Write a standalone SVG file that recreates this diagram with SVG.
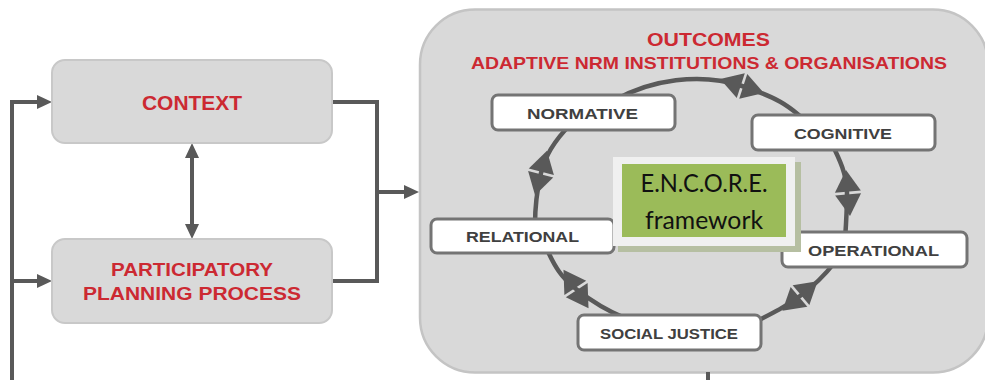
<svg xmlns="http://www.w3.org/2000/svg" width="985" height="380" viewBox="0 0 985 380">
<defs>
<style>
.bg{fill:#ffffff}
.panel{fill:#d9d9d9;stroke:#c4c4c4;stroke-width:2.5}
.ctx{fill:#d9d9d9;stroke:#c8c8c8;stroke-width:2}
.node{fill:#ffffff;stroke:#747474;stroke-width:3}
.red{font-family:"Liberation Sans",Arial,sans-serif;font-weight:bold;fill:#cc2932;text-anchor:middle}
.lbl{font-family:"Liberation Sans",Arial,sans-serif;font-weight:bold;fill:#404040;font-size:15px;text-anchor:middle}
.enc{font-family:Lato,"Liberation Sans",sans-serif;fill:#111111;font-size:25px;text-anchor:middle}
.wire{fill:none;stroke:#595959;stroke-width:4}
.ring{fill:none;stroke:#595959;stroke-width:4.5;stroke-linecap:round}
.dia{fill:#595959}
</style>
<marker id="ah" markerUnits="userSpaceOnUse" markerWidth="16" markerHeight="15" refX="7" refY="7" orient="auto-start-reverse">
<path d="M0,0 L15,7 L0,14 Z" fill="#595959"/>
</marker>
<g id="dm">
<polygon points="-23,0 -1.3,-13 -1.3,13"/>
<polygon points="23,0 1.3,-13 1.3,13"/>
</g>
</defs>
<rect class="bg" x="0" y="0" width="985" height="380"/>

<g id="outcomes">
<rect class="panel" x="420" y="9.5" width="568" height="363" rx="55" ry="55"/>
<text class="red" x="708.5" y="46" font-size="18" textLength="123" lengthAdjust="spacingAndGlyphs">OUTCOMES</text>
<text class="red" x="709" y="69" font-size="17" textLength="476" lengthAdjust="spacingAndGlyphs">ADAPTIVE NRM INSTITUTIONS &amp; ORGANISATIONS</text>
</g>

<g id="connectors">
<path class="wire" d="M12,380 V102 H44" marker-end="url(#ah)"/>
<path class="wire" d="M12,281 H44" marker-end="url(#ah)"/>
<path class="wire" d="M192,151 V231" marker-start="url(#ah)" marker-end="url(#ah)"/>
<path class="wire" d="M332,102 H377 V281 H332"/>
<path class="wire" d="M377,192 H411" marker-end="url(#ah)"/>
<path class="wire" d="M708,372 V380"/>
<g id="ring">
<path class="ring" d="M615,100 C650,80 700,72 742,86 S790,108 805,120"/>
<path class="ring" d="M830,140 C840,160 847,175 847,193 S846,225 845,240"/>
<path class="ring" d="M835,262 C825,275 815,285 800,296 S775,312 755,322"/>
<path class="ring" d="M625,318 C605,310 590,300 576,289 S555,268 545,245"/>
<path class="ring" d="M535,225 C535,205 537,190 541,173 S555,140 570,125"/>
<g class="dia">
<use href="#dm" transform="translate(742,86) rotate(18)"/>
<use href="#dm" transform="translate(848,193) rotate(85)"/>
<use href="#dm" transform="translate(800,296) rotate(140)"/>
<use href="#dm" transform="translate(576,289) rotate(57)"/>
<use href="#dm" transform="translate(541,173) rotate(105)"/>
</g>
</g>
</g>

<g id="context">
<rect class="ctx" x="52" y="60" width="280" height="83" rx="13" ry="13"/>
<text class="red" x="192" y="110" font-size="20" textLength="100" lengthAdjust="spacingAndGlyphs">CONTEXT</text>
</g>
<g id="planning">
<rect class="ctx" x="52" y="239" width="280" height="84" rx="13" ry="13"/>
<text class="red" x="192" y="276" font-size="18.5" textLength="162" lengthAdjust="spacingAndGlyphs">PARTICIPATORY</text>
<text class="red" x="192" y="300" font-size="18.5" textLength="218" lengthAdjust="spacingAndGlyphs">PLANNING PROCESS</text>
</g>

<g id="normative">
<rect class="node" x="492" y="95" width="183" height="35" rx="6" ry="6"/>
<text class="lbl" x="582.5" y="118.5" textLength="111" lengthAdjust="spacingAndGlyphs">NORMATIVE</text>
</g>
<g id="cognitive">
<rect class="node" x="752" y="115" width="183" height="35" rx="6" ry="6"/>
<text class="lbl" x="843" y="139" textLength="98" lengthAdjust="spacingAndGlyphs">COGNITIVE</text>
</g>
<g id="relational">
<rect class="node" x="431" y="219" width="183" height="34" rx="6" ry="6"/>
<text class="lbl" x="522.5" y="242" textLength="113" lengthAdjust="spacingAndGlyphs">RELATIONAL</text>
</g>
<g id="operational">
<rect class="node" x="782" y="232" width="185" height="35" rx="6" ry="6"/>
<text class="lbl" x="873.5" y="255.5" textLength="131" lengthAdjust="spacingAndGlyphs">OPERATIONAL</text>
</g>
<g id="socialjustice">
<rect class="node" x="578" y="315" width="183" height="35" rx="6" ry="6"/>
<text class="lbl" x="669" y="338.5" textLength="138" lengthAdjust="spacingAndGlyphs">SOCIAL JUSTICE</text>
</g>

<g id="encore">
<rect x="618" y="162" width="183" height="90" fill="#b6bfa2"/>
<rect x="613" y="157" width="182" height="89" fill="#f0f0f0"/>
<rect x="622" y="164" width="164" height="73" fill="#9bbb59"/>
<text class="enc" x="704" y="192" textLength="127" lengthAdjust="spacingAndGlyphs">E.N.C.O.R.E.</text>
<text class="enc" x="704" y="229" textLength="118" lengthAdjust="spacingAndGlyphs">framework</text>
</g>
</svg>
